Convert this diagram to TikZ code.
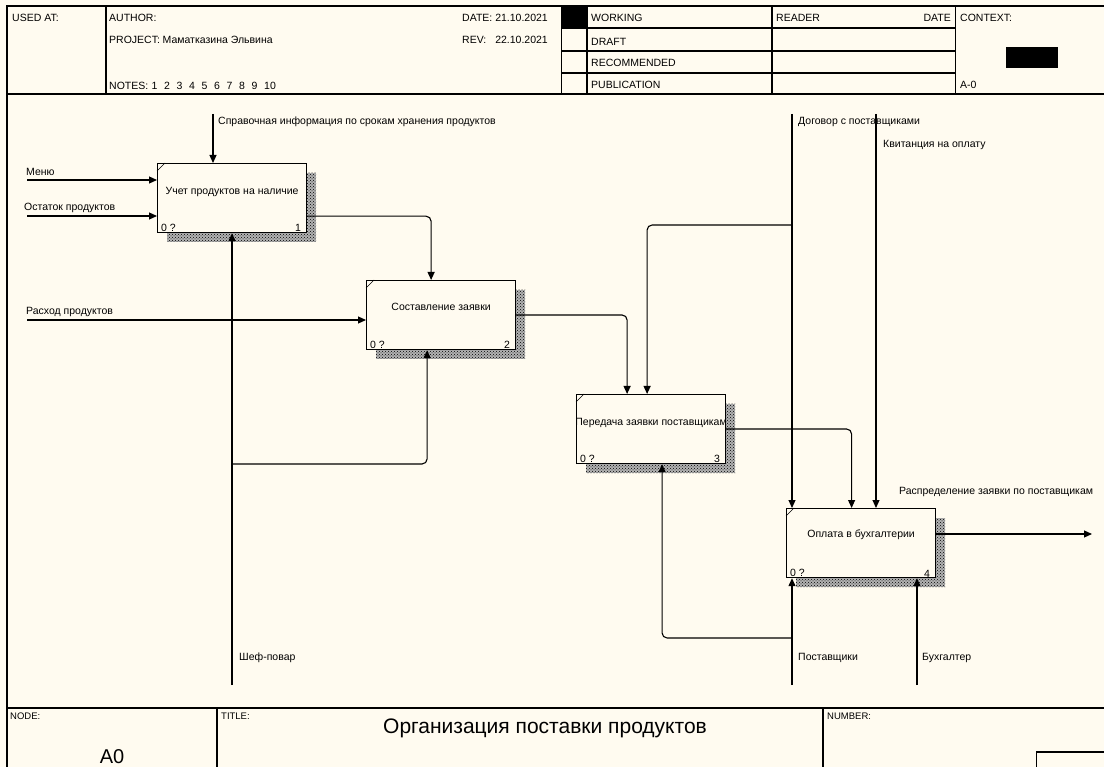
\documentclass[tikz,border=0pt]{standalone}
\usepackage{fontspec}
\setmainfont{Liberation Sans}
\usetikzlibrary{arrows.meta,patterns}
\definecolor{paper}{HTML}{FFFBF0}
\begin{document}
\begin{tikzpicture}[x=1pt, y=-1pt,
    frame/.style={line width=1.3pt},
    func/.style={draw, line width=1.2pt, fill=paper, anchor=north west,
        minimum width=149pt, minimum height=69pt, inner sep=0pt},
    hatch/.style={pattern=crosshatch dots, pattern color=black},
    arr/.style={line width=1.1pt, rounded corners=5pt, -{Triangle[length=8pt,width=7pt]}},
    lbl/.style={font=\fontsize{10.5}{12}\selectfont, anchor=west, inner sep=0pt},
    hdr/.style={font=\fontsize{10.5}{12}\selectfont, anchor=west, inner sep=0pt},
    boxtxt/.style={font=\fontsize{10.5}{12}\selectfont, inner sep=0pt},
    num/.style={font=\fontsize{10.5}{12}\selectfont, inner sep=1pt}]
    \useasboundingbox (0,0) rectangle (1104,767);
    \fill[paper] (0,0) rectangle (1104,767);
    % Frame and header
    \draw[frame] (1104,6) -- (7,6) -- (7,767);
    \draw[frame] (7,94) -- (1104,94);
    \draw[frame] (7,708) -- (1104,708);
    \foreach \x in {106,561.5,587,772,955.5} \draw[frame] (\x,6) -- (\x,94);
    \foreach \y in {28,51,73} \draw[frame] (561.5,\y) -- (955.5,\y);
    \draw[frame] (217,708) -- (217,767);
    \draw[frame] (823,708) -- (823,767);
    \draw[frame] (1104,752) -- (1036.5,752) -- (1036.5,767);
    \fill (561.5,6) rectangle (587,28);
    \fill (1006,47) rectangle (1058,68);
    \node[hdr] (usedat) at (12,18) {USED AT:};
    \node[hdr] (author) at (109,18) {AUTHOR:};
    \node[hdr] (project) at (109,40) {PROJECT:};
    \node[hdr] (projname) at (162.5,40) {Маматказина Эльвина};
    \node[hdr] (notes) at (109,86) {NOTES:};
    \foreach \n in {1,...,10} \node[hdr] (note\n) at ({139+12.5*\n},86) {\n};
    \node[hdr] (date) at (462,18) {DATE:};
    \node[hdr, anchor=east] (dateval) at (548,18) {21.10.2021};
    \node[hdr] (rev) at (462,40) {REV:};
    \node[hdr, anchor=east] (revval) at (548,40) {22.10.2021};
    \node[hdr] (working) at (591,18) {WORKING};
    \node[hdr] (draft) at (591,42) {DRAFT};
    \node[hdr] (recommended) at (591,63) {RECOMMENDED};
    \node[hdr] (publication) at (591,85) {PUBLICATION};
    \node[hdr] (reader) at (776,18) {READER};
    \node[hdr, anchor=east] (rdate) at (951,18) {DATE};
    \node[hdr] (context) at (960,18) {CONTEXT:};
    \node[hdr] (aref) at (960,85) {A-0};
    % Footer
    \node[hdr, font=\fontsize{9.5}{11}\selectfont] (nodelbl) at (10,716) {NODE:};
    \node[hdr, font=\fontsize{9.5}{11}\selectfont] (titlelbl) at (221,716) {TITLE:};
    \node[hdr, font=\fontsize{9.5}{11}\selectfont] (numlbl) at (827,716) {NUMBER:};
    \node[font=\fontsize{20}{22}\selectfont, inner sep=0pt] (nodeid) at (112,757) {A0};
    \node[font=\fontsize{21}{24}\selectfont, inner sep=0pt] (title) at (545,728) {Организация поставки продуктов};
    % Shadows
    \foreach \x/\y in {167/173,376/290,586/404,796/518} {
        \fill[black!30] (\x,\y) rectangle ++(149,69);
        \fill[hatch] (\x,\y) rectangle ++(149,69);
    }
    % Functions
    \node[func] (b1) at (157,163) {};
    \node[func] (b2) at (366,280) {};
    \node[func] (b3) at (576,394) {};
    \node[func] (b4) at (786,508) {};
    \foreach \b in {b1,b2,b3,b4} \draw[line width=0.6pt] (\b.north west) ++(0,8) -- ++(8,-8);
    \node[boxtxt] (b1t) at ([yshift=6pt]b1.center) {Учет продуктов на наличие};
    \node[boxtxt] (b2t) at ([yshift=8pt]b2.center) {Составление заявки};
    \node[boxtxt] (b3t) at ([yshift=6pt]b3.center) {Передача заявки поставщикам};
    \node[boxtxt] (b4t) at ([yshift=8pt]b4.center) {Оплата в бухгалтерии};
    \foreach \b/\n in {b1/1,b2/2,b3/3,b4/4} {
        \node[num, anchor=south west] (\b q) at ([xshift=3pt]\b.south west) {0 ?};
        \node[num, anchor=south east] (\b n) at ([xshift=-5pt]\b.south east) {\n};
    }
    % Inputs, controls, mechanisms
    \coordinate (ctl1) at (213,114);
    \coordinate (ctl2) at (792,114);
    \coordinate (ctl3) at (876,114);
    \coordinate (in1) at (27,180);
    \coordinate (in2) at (27,216);
    \coordinate (in3) at (27,320);
    \coordinate (mech1) at (232,685);
    \coordinate (mech2) at (792,685);
    \coordinate (mech3) at (917,685);
    \coordinate (fork1) at (792,225);
    \coordinate (fork2) at (232,464);
    \coordinate (fork3) at (792,638);
    \coordinate (out1) at (1092,534);
    \draw[arr] (ctl1) -- (ctl1 |- b1.north);
    \draw[arr] (in1) -- (in1 -| b1.west);
    \draw[arr] (in2) -- (in2 -| b1.west);
    \draw[arr] (in3) -- (in3 -| b2.west);
    \draw[arr] (ctl2) -- (ctl2 |- b4.north);
    \draw[arr] (fork1) -| ([xshift=-4pt]b3.north);
    \draw[arr] (ctl3) -- (ctl3 |- b4.north);
    \draw[arr] ([yshift=17pt]b1.south east) -| ([xshift=-10pt]b2.north);
    \draw[arr] ([yshift=-35pt]b2.north east) -| ([xshift=-24pt]b3.north);
    \draw[arr] ([yshift=-35pt]b3.north east) -| ([xshift=-9.5pt]b4.north);
    \draw[arr] ([yshift=-26pt]b4.north east) -- (out1);
    \draw[arr] (mech1) -- (mech1 |- b1.south);
    \draw[arr] (fork2) -| ([xshift=-14pt]b2.south);
    \draw[arr] (mech2) -- (mech2 |- b4.south);
    \draw[arr] (fork3) -| ([xshift=11pt]b3.south);
    \draw[arr] (mech3) -- (mech3 |- b4.south);
    % Arrow labels
    \node[lbl] (l1) at (218,122) {Справочная информация по срокам хранения продуктов};
    \node[lbl] (l2) at (26,172) {Меню};
    \node[lbl] (l3) at (24,208) {Остаток продуктов};
    \node[lbl] (l4) at (26,312) {Расход продуктов};
    \node[lbl] (l5) at (798,122) {Договор с поставщиками};
    \node[lbl] (l6) at (883,145) {Квитанция на оплату};
    \node[lbl] (l7) at (899,492) {Распределение заявки по поставщикам};
    \node[lbl] (l8) at (239,658) {Шеф-повар};
    \node[lbl] (l9) at (798,658) {Поставщики};
    \node[lbl] (l10) at (922,658) {Бухгалтер};
\end{tikzpicture}
\end{document}
